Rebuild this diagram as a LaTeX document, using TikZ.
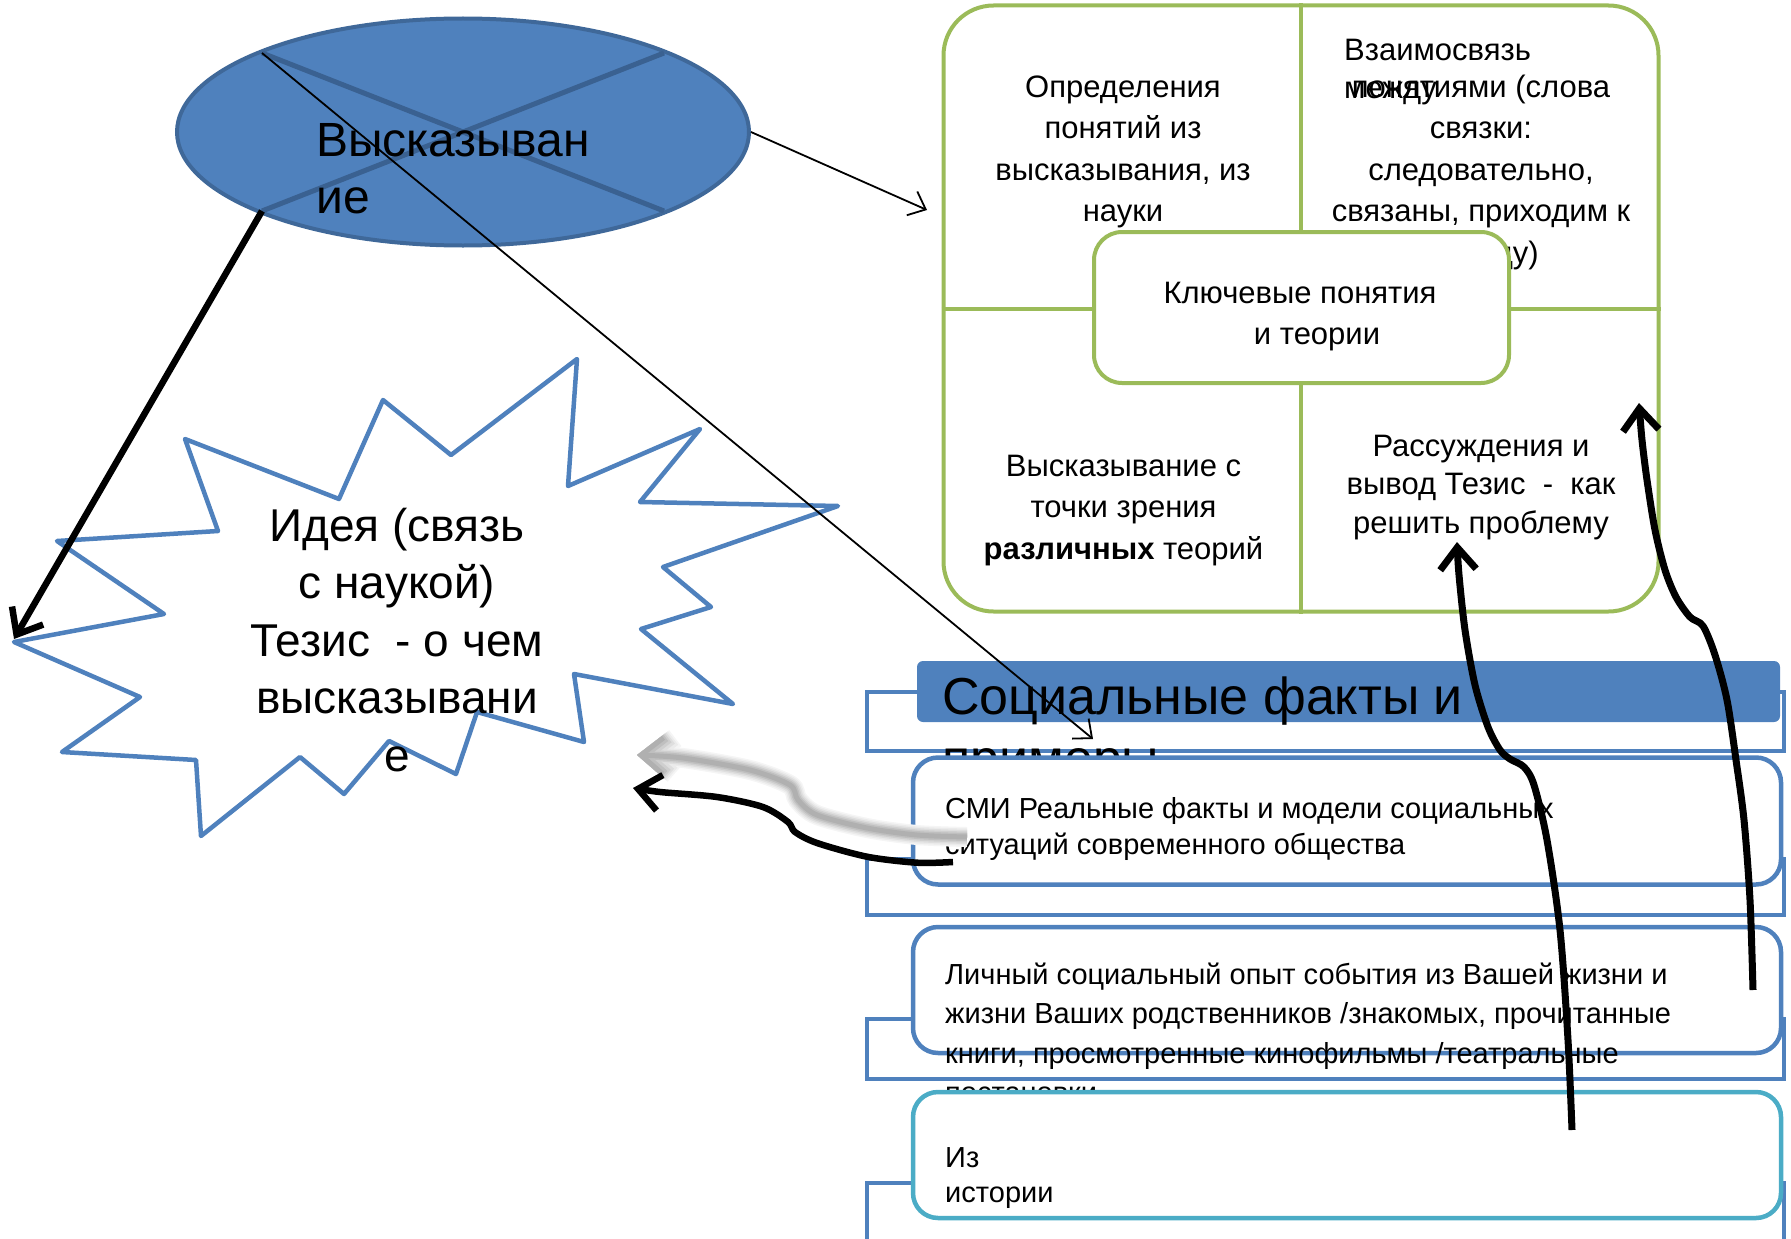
\documentclass[tikz,border=0pt]{standalone}
\usepackage{fontspec}
\setmainfont{Liberation Sans}
\usetikzlibrary{arrows.meta,calc,shapes.geometric}
\definecolor{accblue}{HTML}{4F81BD}
\definecolor{accblued}{HTML}{3F6899}
\definecolor{xblue}{HTML}{3A6191}
\definecolor{accgreen}{HTML}{9BBB59}
\definecolor{accteal}{HTML}{4BACC6}
\newcommand\CL[1]{\vtop{\halign{\hfil##\hfil\cr#1\crcr}}}
\newcommand\LL[1]{\vtop{\halign{##\hfil\cr#1\crcr}}}
\begin{document}
\begin{tikzpicture}[x=1pt,y=-1pt,
  bline/.style={draw=accblue,line width=4.5pt},
  gline/.style={draw=accgreen,line width=4pt},
  starst/.style={draw=accblue,line width=4.5pt,fill=white,line join=round},
  thinarr/.style={draw=black,line width=1.8pt,-{Straight Barb[length=15pt,width=26pt]}},
  thickarr/.style={draw=black,line width=7pt,-{Straight Barb[length=22pt,width=36pt]}},
  txt/.style={inner sep=0pt,text=black},
  fbig/.style={font=\fontsize{48}{57}\selectfont},
  fstar/.style={font=\fontsize{46}{57.5}\selectfont},
  fgrid/.style={font=\fontsize{31}{41.5}\selectfont},
  fsoc/.style={font=\fontsize{29}{36.5}\selectfont},
  ftitle/.style={font=\fontsize{52}{62}\selectfont},
  listbox/.style={fill=white,line width=4.5pt,rounded corners=25pt,minimum width=868pt,minimum height=127pt,inner sep=0pt}
]
\useasboundingbox (0,0) rectangle (1791,1239);

% ---------- star ----------
\draw[starst] (577,359) -- (568,486) -- (700,429) -- (640,502) -- (838,506) -- (663,567) -- (711,607) -- (641,629) -- (733,704) -- (574,674) -- (584,742) -- (477,712) -- (456,774) -- (389,741) -- (344,794) -- (300,757) -- (201,836) -- (196,760) -- (62,752) -- (140,697) -- (14,642) -- (164,614) -- (57,541) -- (218,531) -- (185,439) -- (339,499) -- (383,400) -- (451,455) -- cycle;
\coordinate (starTip) at (14,639);
\node[txt,fstar,anchor=base] (idea) at (397,541) {\CL{Идея (связь\cr с наукой)\cr Тезис\ \ - о чем\cr высказывани\cr е}};

% ---------- ellipse ----------
\node[ellipse,draw=accblued,fill=accblue,line width=4pt,minimum width=572pt,minimum height=227pt,inner sep=0pt] (stmt) at (463,132) {};
\coordinate (eTL) at ($(stmt.center)+(-201,-79)$);
\coordinate (eTR) at ($(stmt.center)+(201,-79)$);
\coordinate (eBL) at ($(stmt.center)+(-201,79)$);
\coordinate (eBR) at ($(stmt.center)+(201,79)$);
\draw[xblue,line width=5pt] (eTL) -- (eBR);
\draw[xblue,line width=5pt] (eTR) -- (eBL);
\node[txt,fbig,anchor=base west] (stmttxt) at (316,156) {\LL{Высказыван\cr ие}};

% ---------- green grid ----------
\node[draw=accgreen,line width=4pt,rounded corners=50pt,minimum width=715pt,minimum height=606pt,inner sep=0pt] (grid) at (1301,308.5) {};
\draw[gline] (grid.north) -- (grid.south);
\draw[gline] (grid.west) -- (grid.east);
\node[txt,fgrid,anchor=base] (q1) at (1123,97.3) {\CL{Определения\cr понятий из\cr высказывания, из\cr науки}};
\node[txt,font=\fontsize{31}{38}\selectfont,anchor=base west] (q2a) at (1344,61) {\LL{Взаимосвязь\cr между}};
\node[txt,fgrid,anchor=base] (q2) at (1481,97) {\CL{понятиями (слова\cr связки:\cr следовательно,\cr связаны, приходим к\cr выводу)}};
\node[txt,fgrid,anchor=base] (q3) at (1123.5,476) {\CL{Высказывание с\cr точки зрения\cr \textbf{различных} теорий}};
\node[txt,font=\fontsize{31}{38.5}\selectfont,anchor=base] (q4) at (1481,456) {\CL{Рассуждения и\cr вывод Тезис\ \ -\ \ как\cr решить проблему}};
\node[draw=accgreen,fill=white,line width=4pt,rounded corners=28pt,minimum width=415pt,minimum height=151pt,inner sep=0pt] (key) at (1301.5,307.5) {};
\node[txt,fgrid,anchor=base] (keytxt) at (1300,303) {\CL{Ключевые понятия\cr \hspace*{34pt}и теории}};

% ---------- social facts list ----------
\draw[bline] (867,692) rectangle (1784,751);
\node[fill=accblue,rounded corners=6pt,minimum width=863pt,minimum height=61pt,inner sep=0pt] (title) at (1348.5,691.5) {};
\node[txt,ftitle,anchor=base west] (titletxt) at (942,714.6) {\LL{Социальные факты и\cr примеры}};

\draw[bline] (867,859) rectangle (1784,915);
\node[listbox,draw=accblue] (smi) at (1347,821) {};
\node[txt,fsoc,anchor=base west] (smitxt) at (945,818) {\LL{СМИ Реальные факты и модели социальных\cr ситуаций современного общества}};

\draw[bline] (867,1019) rectangle (1784,1079);
\node[listbox,draw=accblue,minimum height=126pt] (lich) at (1347,990) {};
\node[txt,font=\fontsize{29}{39.5}\selectfont,anchor=base west] (lichtxt) at (945,984.4) {\LL{Личный социальный опыт события из Вашей жизни и\cr жизни Ваших родственников /знакомых, прочитанные\cr книги, просмотренные кинофильмы /театральные\cr постановки}};

\draw[bline] (867,1183) rectangle (1784,1270);
\node[listbox,draw=accteal,minimum height=126pt] (hist) at (1347,1155) {};
\node[txt,font=\fontsize{29}{35}\selectfont,anchor=base west] (histtxt) at (945,1167) {\LL{Из\cr истории}};

% ---------- curved arrow to the star (with grey blur) ----------
\coordinate (gStart) at (967,837);
\coordinate (gTip) at (637,755);
\foreach \w/\c in {20/black!4, 17/black!8, 14/black!13, 11/black!19, 8/black!25, 5/black!31}{
  \draw[draw=\c,line width=\w pt,-{Straight Barb[length=22pt,width=36pt]}] plot[smooth] coordinates {(gStart) (917,835) (867,828) (817,815) (798,800) (790,785) (750,770) (683,758) (gTip)};
}
\coordinate (cStart) at (953,862);
\coordinate (cTip) at (633,788);
\draw[thickarr,line width=6.5pt] plot[smooth] coordinates {(cStart) (917,862.7) (867,856.7) (817,843) (795,832) (788,822) (763,807) (717,797) (660,792) (cTip)};

% ---------- straight arrows from the statement ----------
\coordinate (gridIn) at (927,210);
\draw[thinarr] (stmt.east) -- (gridIn);
\coordinate (titleIn) at (1093,739);
\draw[thinarr] (eTL) -- (titleIn);
\draw[thickarr,line width=6.5pt] (eBL) -- (starTip);

% ---------- arrows up into the grid ----------
\coordinate (aStart) at (1572,1130);
\coordinate (aTip) at (1457,542);
\draw[thickarr] plot[smooth] coordinates {(aStart) (1568,1040) (1560,930) (1547,840) (1534,785) (1524,767) (1510,759) (1500,750) (1488,727) (1475,685) (1465,630) (1459,575) (aTip)};
\coordinate (bStart) at (1753,990);
\coordinate (bTip) at (1639,403);
\draw[thickarr] plot[smooth] coordinates {(bStart) (1750,900) (1744,820) (1736,760) (1727,700) (1715,655) (1703,626) (1690,617) (1676,597) (1665,570) (1655,530) (1647,480) (1642,440) (bTip)};
\end{tikzpicture}
\end{document}
